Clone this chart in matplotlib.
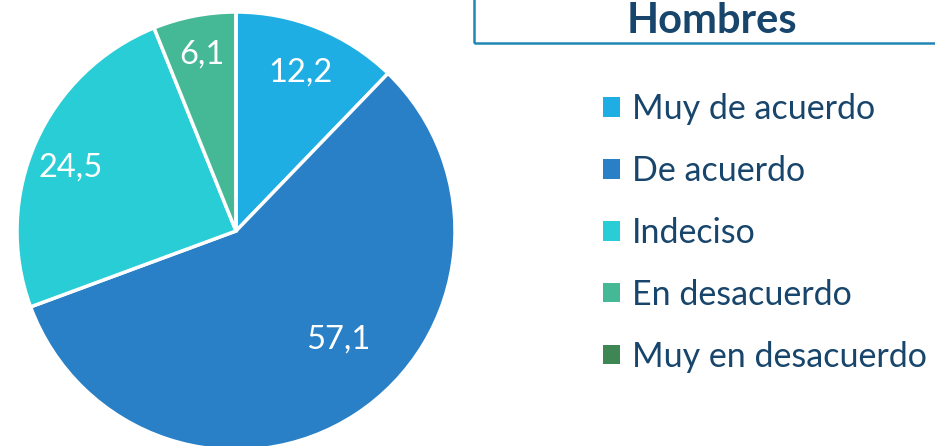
import numpy as np
import matplotlib
matplotlib.use("Agg")
import matplotlib.pyplot as plt
from matplotlib.patches import Rectangle

categories = ["Muy de acuerdo", "De acuerdo", "Indeciso", "En desacuerdo", "Muy en desacuerdo"]
values = [12.2, 57.1, 24.5, 6.1, 0.0]
colors = ["#1FAEE3", "#2980C6", "#29CDD6", "#45B996", "#3E8654"]
title = "Hombres"

NAVY = "#18456B"
FONT = "Lato"

W, H = 935, 446
fig = plt.figure(figsize=(W / 100, H / 100), dpi=100)

# pie axes: center (236, 231) px from top-left, radius 219 px
cx, cy, r = 236, 231, 219
ax = fig.add_axes([(cx - r) / W, (H - cy - r) / H, 2 * r / W, 2 * r / H])
wedges, _ = ax.pie(values, colors=colors, startangle=90, counterclock=False,
                   radius=1.0, wedgeprops=dict(edgecolor="white", linewidth=2.5))
ax.set_xlim(-1, 1); ax.set_ylim(-1, 1); ax.set_aspect("equal")
ax.axis("off")

# label placement (Excel "best fit" look)
lab_r = [0.78, 0.68, 0.81, 0.82, 0.8]
lab_da = [0, 10, 3, 0, 0]
for w, v, rr, da in zip(wedges, values, lab_r, lab_da):
    if v <= 0:
        continue
    a = np.deg2rad((w.theta1 + w.theta2) / 2 + da)
    ax.text(rr * np.cos(a), rr * np.sin(a), f"{v:.1f}".replace(".", ","),
            ha="center", va="center", color="white", fontsize=23.5, family=FONT)

# title box
fig.patches.append(Rectangle((474 / W, (H - 43) / H), 600 / W, 100 / H,
                             transform=fig.transFigure, fill=False,
                             edgecolor="#2187B4", linewidth=1.8))
fig.text(712 / W, (H - 21) / H, title, ha="center", va="center",
         fontsize=30, fontweight="bold", color=NAVY, family=FONT)

leg = fig.legend(wedges, categories, loc="upper left",
                 bbox_to_anchor=(603 / W, (H - 93) / H), frameon=False,
                 fontsize=24.5, handlelength=0.5, handleheight=0.5,
                 handletextpad=0.36, labelspacing=0.88, borderpad=0, borderaxespad=0)
for t in leg.get_texts():
    t.set_color(NAVY)
    t.set_family(FONT)
for h in leg.legend_handles:
    h.set_edgecolor("none")

fig.savefig("out.png", dpi=100)
